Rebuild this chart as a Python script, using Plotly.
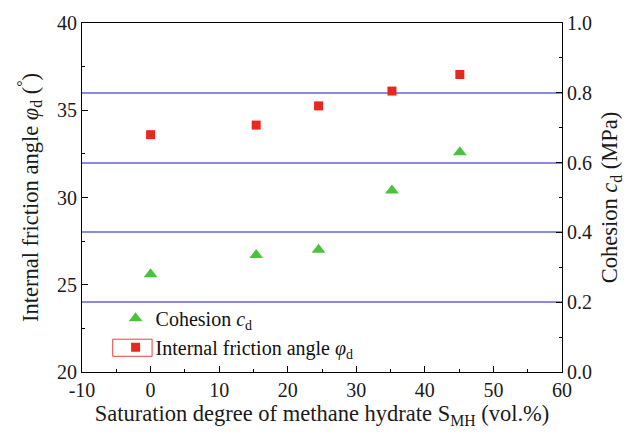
import plotly.graph_objects as go

saturation_phi = [0, 15.4, 24.5, 35.2, 45.1]
friction_angle = [33.6, 34.15, 35.25, 36.1, 37.05]
saturation_c = [0, 15.4, 24.5, 35.2, 45.1]
cohesion = [0.28, 0.335, 0.35, 0.52, 0.63]

x_ticks = [-10, 0, 10, 20, 30, 40, 50, 60]
x_ticktext = ["-10", "0", "10", "20", "30", "40", "50", "60"]

FONT = "Liberation Serif"
AX = "#000000"

fig = go.Figure()
fig.add_trace(go.Scatter(
    x=saturation_c, y=cohesion, yaxis="y2", mode="markers",
    name="Cohesion <i>c</i><sub>d</sub>",
    marker=dict(symbol="triangle-up", size=12, color="#4cc23c"),
))
fig.add_trace(go.Scatter(
    x=saturation_phi, y=friction_angle, mode="markers",
    name="Internal friction angle <i>φ</i><sub>d</sub>",
    marker=dict(symbol="square", size=9, color="#e8281e"),
))

common = dict(showline=True, linecolor=AX, linewidth=1.2, ticks="inside",
              ticklen=6, tickwidth=1.2, tickcolor=AX,
              tickfont=dict(family=FONT, size=20, color="#1a1a1a"), zeroline=False)

fig.update_layout(
    width=644, height=438,
    margin=dict(l=82, r=82, t=18, b=66),
    paper_bgcolor="white", plot_bgcolor="white",
    font=dict(family=FONT, color="#1a1a1a"),
    showlegend=True,
    legend=dict(x=0.07, y=0.21, xanchor="left", yanchor="top",
                bgcolor="rgba(0,0,0,0)", font=dict(family=FONT, size=20, color="#111"),
                tracegroupgap=0, itemwidth=30),
    xaxis=dict(range=[-10, 60], tickvals=x_ticks, ticktext=x_ticktext,
               minor=dict(dtick=5, ticks="inside", ticklen=3, tickcolor=AX),
               showgrid=False, mirror=True,
               title=dict(text="Saturation degree of methane hydrate S<sub>MH</sub> (vol.%)",
                          font=dict(family=FONT, size=22.5, color="#1a1a1a"), standoff=2),
               **common),
    yaxis=dict(range=[20, 40], dtick=5, minor=dict(dtick=2.5, ticks="inside", ticklen=3, tickcolor=AX),
               showgrid=False,
               title=dict(text="Internal friction angle <i>φ</i><sub>d</sub> (<sup>°</sup>)",
                          font=dict(family=FONT, size=22.5, color="#1a1a1a"), standoff=12),
               **common),
    yaxis2=dict(range=[0, 1.0], dtick=0.2, tickformat=".1f", overlaying="y", side="right",
                minor=dict(dtick=0.1, ticks="inside", ticklen=3, tickcolor=AX),
                showgrid=True, gridcolor="#8a8ae6", gridwidth=1.5,
                title=dict(text="Cohesion <i>c</i><sub>d</sub> (MPa)",
                           font=dict(family=FONT, size=22.5, color="#1a1a1a"), standoff=10),
                **common),
)

# legend selection box (decoration)
fig.add_shape(type="rect", xref="paper", yref="paper",
              x0=0.064, x1=0.146, y0=0.045, y1=0.094,
              line=dict(color="#e84040", width=1))

fig.write_html("out.html")
